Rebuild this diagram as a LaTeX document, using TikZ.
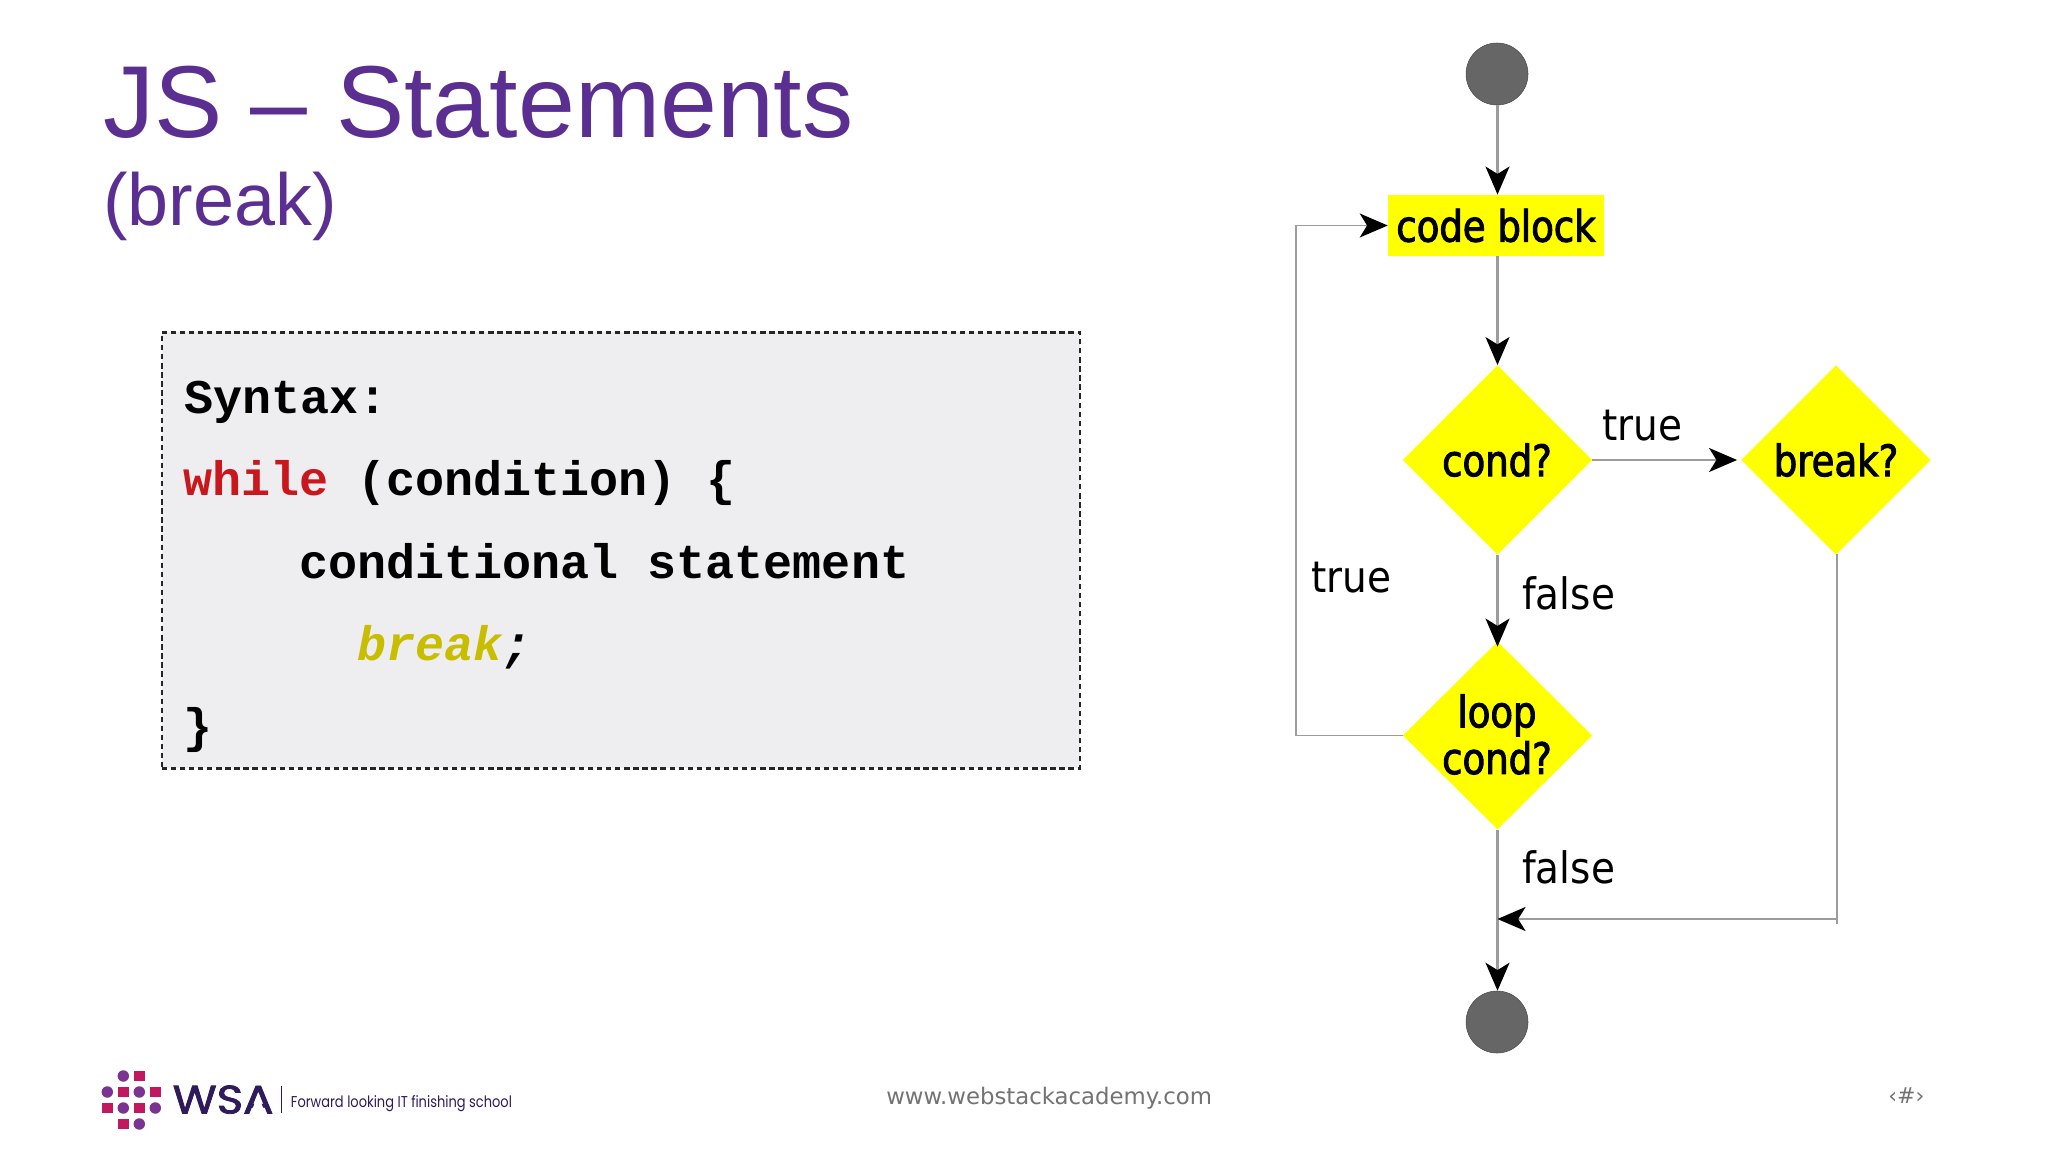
\documentclass[tikz,border=0pt]{standalone}
\usepackage{fontspec}
\usepackage{graphicx}
\setmainfont{Liberation Sans}
\newfontfamily\flowfont{DejaVu Sans Condensed}
\newfontfamily\flowbold[FakeBold=2.2,FakeStretch=0.95]{DejaVu Sans Condensed}
\newfontfamily\codefont{Liberation Mono}
\newfontfamily\footfont{DejaVu Sans}
\newfontfamily\logofont{Poppins}
\newfontfamily\logoheavy[FakeBold=2]{Poppins}
\usetikzlibrary{shapes.geometric,arrows.meta}
\definecolor{titlepurple}{HTML}{5B2F91}
\definecolor{boxfill}{HTML}{EEEDF0}
\definecolor{codered}{HTML}{C9171E}
\definecolor{codeyellow}{HTML}{C9BD00}
\definecolor{flowyellow}{HTML}{FFFF00}
\definecolor{discgrey}{HTML}{666666}
\definecolor{linegrey}{HTML}{9C9C9C}
\definecolor{logomag}{HTML}{C2185F}
\definecolor{logopur}{HTML}{7A3391}
\definecolor{logodark}{HTML}{2F1B5C}
\newcommand{\codesize}{\fontsize{36.3pt}{40pt}\selectfont}
\newcommand{\flowsize}{\fontsize{32.5pt}{35pt}\selectfont}
\tikzset{
  x=0.75pt,y=-0.75pt,
  tipa/.tip={Stealth[length=21pt,width=18pt,inset=5.5pt,color=black]},
  conn/.style={draw=linegrey,line width=1.6pt,-tipa},
  plain/.style={draw=linegrey,line width=1.1pt},
  disc/.style={circle,draw=black!70,line width=0.4pt,fill=discgrey,minimum size=46.5pt,inner sep=0pt},
  decide/.style={diamond,fill=flowyellow,minimum width=142pt,minimum height=142pt,inner sep=0pt},
  decidetext/.style={inner sep=0pt,align=center,font=\flowbold\flowsize},
  blockbox/.style={rectangle,fill=flowyellow,minimum width=162pt,minimum height=46pt,inner sep=0pt,font=\flowbold\flowsize},
  flowlabel/.style={anchor=base west,inner sep=0pt,font=\flowfont\flowsize},
  codeline/.style={anchor=base west,inner sep=0pt,font=\codefont\bfseries\codesize},
  logosq/.style={rectangle,fill=logomag,minimum size=8.2pt,inner sep=0pt},
  logodot/.style={circle,fill=logopur,minimum size=8.6pt,inner sep=0pt},
}
\begin{document}
\begin{tikzpicture}
\useasboundingbox (0,0) rectangle (2048,1152);
\fill[white] (0,0) rectangle (2048,1152);
% title
\node[anchor=base west,inner sep=0pt,text=titlepurple,font=\fontsize{76.7pt}{80pt}\selectfont] (title) at (103,137.5) {JS – Statements};
\node[anchor=base west,inner sep=0pt,text=titlepurple,font=\fontsize{55.3pt}{60pt}\selectfont] (subtitle) at (103,225) {(break)};
% code box
\node[draw=black!85,dash pattern=on 4pt off 2.8pt,line width=1.9pt,fill=boxfill,minimum width=688.5pt,minimum height=327pt,inner sep=0pt,anchor=north west] (codebox) at (160.5,331) {};
\node[codeline] (c1) at (184,413.3) {Syntax:};
\node[codeline] (c2) at (183,495.5) {\textcolor{codered}{while} (condition) \{};
\node[codeline] (c3) at (299,578.3) {conditional statement};
\node[codeline] (c4) at (357,660) {\textit{\textcolor{codeyellow}{break};}};
\node[codeline] (c5) at (183,742) {\}};
% flow
\node[disc] (start) at (1497,74) {};
\node[blockbox] (code) at (1496,225.5) {code block};
\node[decide] (cond) at (1497.5,460) {};
\node[decidetext] (condtext) at (1497,460) {cond?};
\node[decide] (brk) at (1836,460) {};
\node[decidetext] (brktext) at (1836,460) {break?};
\node[decide,minimum height=141pt] (loop) at (1497.5,735.5) {};
\node[decidetext] (looptext) at (1497,734.5) {loop\\cond?};
\node[disc] (stop) at (1497,1022) {};
\coordinate (join) at (1497.5,919);
\coordinate (corner) at (1837,919);
\coordinate (tail) at (1837,924);
\coordinate (loopa) at (1296,735.5);
\coordinate (loopb) at (1296,225.5);
\draw[conn] (cond.north |- start.south) -- (cond.north |- code.north);
\draw[conn] (cond.north |- code.south) -- (cond.north);
\draw[conn] (cond.east) -- ([xshift=-3pt]brk.west);
\draw[conn] (cond.south) -- ([yshift=-4pt]loop.north);
\draw[conn] (loop.south) -- (loop.south |- stop.north);
\draw[plain] (brk.south) -- (brk.south -| tail) -- (tail);
\draw[conn] (corner) -- (join);
\draw[plain,-tipa] (loop.west) -- (loopa) -- (loopb) -- (code.west);
\node[flowlabel] (l1) at (1602,440) {true};
\node[flowlabel] (l2) at (1311,592.5) {true};
\node[flowlabel] (l3) at (1522,609) {false};
\node[flowlabel] (l4) at (1522,883.5) {false};
% footer
\node[anchor=base west,inner sep=0pt,text=black!55,font=\footfont\fontsize{17.1pt}{20pt}\selectfont] (web) at (886,1104) {www.webstackacademy.com};
\node[anchor=base west,inner sep=0pt,text=black!55,font=\footfont\fontsize{16.5pt}{20pt}\selectfont] (num) at (1888,1103) {‹\#›};
% logo
\foreach \nm/\cx/\cy in {a/123.3/1076,b/107.3/1092,c/139.3/1092,d/123.3/1108,e/155.3/1108,f/139.3/1124}
  \node[logodot] (dot\nm) at (\cx,\cy) {};
\foreach \nm/\cx/\cy in {a/139.3/1076,b/123.3/1092,c/155.3/1092,d/107.3/1108,e/139.3/1108,f/123.3/1124}
  \node[logosq] (sq\nm) at (\cx,\cy) {};
\node[anchor=south west,inner sep=0pt,text=logodark] (wsa) at (172.5,1114) {\resizebox{75.5pt}{21pt}{\logoheavy WSA}};
\fill[white] (250,1115) -- (266,1115) -- (258,1095) -- cycle;
\coordinate (sepa) at (281.7,1086);
\coordinate (sepb) at (281.7,1113);
\draw[logodark,line width=0.7pt] (sepa) -- (sepb);
\node[anchor=base west,inner sep=0pt,text=logodark] (tag) at (290.7,1107) {\resizebox{165.75pt}{9pt}{\logofont Forward looking IT finishing school}};
\end{tikzpicture}
\end{document}
